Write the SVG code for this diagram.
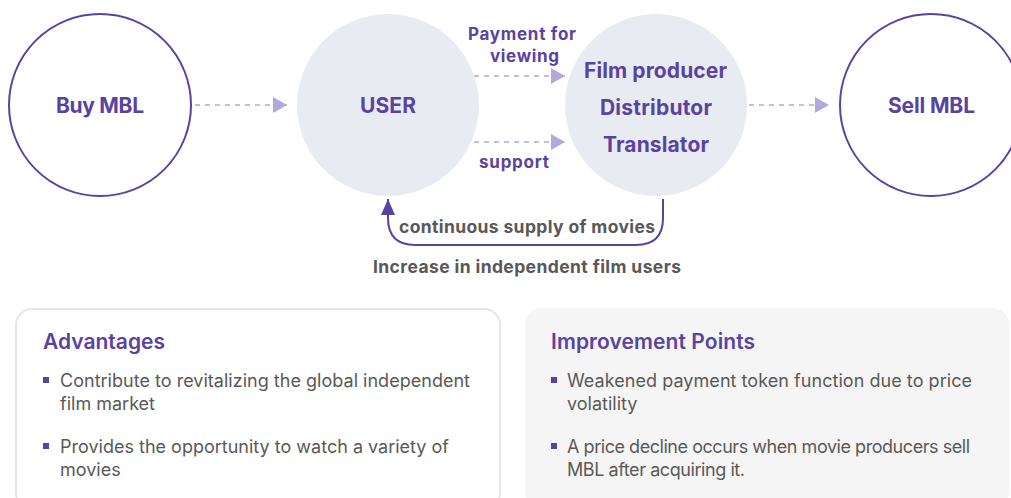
<svg xmlns="http://www.w3.org/2000/svg" width="1011" height="498" viewBox="0 0 1011 498">
<style>
.ring{fill:#fff;stroke:#5a43a0;stroke-width:2}
.disc{fill:#e9ebf3}
.t{font-family:Inter,"Liberation Sans",sans-serif;font-weight:700;fill:#5a43a0;text-anchor:middle}
.g{font-family:Inter,"Liberation Sans",sans-serif;font-weight:700;fill:#585858;text-anchor:middle;font-size:17.5px}
.dash{stroke:#b3a8dc;stroke-width:1.6;stroke-dasharray:5 5;fill:none}
.h{font-family:Inter,"Liberation Sans",sans-serif;font-weight:600;fill:#5a43a0;font-size:21px}
.b{font-family:Inter,"Liberation Sans",sans-serif;font-weight:400;fill:#595959;font-size:18px}
.sq{fill:#5a43a0}
</style>
<defs>
<marker id="ah" markerWidth="14" markerHeight="16" refX="14" refY="8" orient="auto" markerUnits="userSpaceOnUse"><path d="M0,0 L14,8 L0,16 Z" fill="#b3a8dc"/></marker>
<marker id="ah2" markerWidth="16" markerHeight="14" refX="16" refY="7" orient="auto" markerUnits="userSpaceOnUse"><path d="M0,0 L16,7 L0,14 Z" fill="#5a43a0"/></marker>
</defs>
<g id="buy"><circle class="ring" cx="100" cy="105" r="91"/><text class="t" x="100" y="113" font-size="21" textLength="88" lengthAdjust="spacing">Buy MBL</text></g>
<g id="user"><circle class="disc" cx="388" cy="105" r="91"/><text class="t" x="388" y="113" font-size="21" textLength="56" lengthAdjust="spacing">USER</text></g>
<g id="producer"><circle class="disc" cx="656" cy="105" r="91"/>
<text class="t" x="655.5" y="78" font-size="21" textLength="143" lengthAdjust="spacing">Film producer</text>
<text class="t" x="656" y="115" font-size="21" textLength="112" lengthAdjust="spacing">Distributor</text>
<text class="t" x="656" y="152" font-size="21" textLength="106" lengthAdjust="spacing">Translator</text></g>
<g id="sell"><circle class="ring" cx="931" cy="105" r="91"/><text class="t" x="931.5" y="113" font-size="21" textLength="87" lengthAdjust="spacing">Sell MBL</text></g>
<g id="connectors">
<line class="dash" x1="195" y1="105" x2="287" y2="105" marker-end="url(#ah)"/>
<line class="dash" x1="474" y1="76" x2="565" y2="76" marker-end="url(#ah)"/>
<line class="dash" x1="474" y1="142" x2="565" y2="142" marker-end="url(#ah)"/>
<line class="dash" x1="749" y1="105" x2="829" y2="105" marker-end="url(#ah)"/>
<path d="M663 199 L663 218 Q663 245 636 245 L415 245 Q388 245 388 218 L388 199" fill="none" stroke="#5a43a0" stroke-width="2" marker-end="url(#ah2)"/>
<text class="t" x="522" y="40" font-size="17" textLength="108" lengthAdjust="spacing">Payment for</text>
<text class="t" x="524.5" y="62" font-size="17" textLength="69" lengthAdjust="spacing">viewing</text>
<text class="t" x="514" y="168" font-size="17" textLength="70" lengthAdjust="spacing">support</text>
<text class="g" x="527" y="233" textLength="256" lengthAdjust="spacing">continuous supply of movies</text>
<text class="g" x="527" y="273" textLength="308" lengthAdjust="spacing">Increase in independent film users</text>
</g>
<g id="advantages">
<rect x="16" y="309" width="484" height="200" rx="16" fill="#fff" stroke="#e6e6e6" stroke-width="2"/>
<text class="h" x="43" y="349" textLength="122" lengthAdjust="spacing">Advantages</text>
<rect class="sq" x="43" y="377" width="6" height="6"/>
<text class="b" x="60" y="387" textLength="410" lengthAdjust="spacing">Contribute to revitalizing the global independent</text>
<text class="b" x="60" y="410">film market</text>
<rect class="sq" x="43" y="443" width="6" height="6"/>
<text class="b" x="60" y="453" textLength="389" lengthAdjust="spacing">Provides the opportunity to watch a variety of</text>
<text class="b" x="60" y="476">movies</text>
</g>
<g id="improvement">
<rect x="525" y="308" width="484" height="200" rx="16" fill="#f5f5f5"/>
<text class="h" x="551" y="349" textLength="204" lengthAdjust="spacing">Improvement Points</text>
<rect class="sq" x="551" y="377" width="6" height="6"/>
<text class="b" x="567" y="387" textLength="405" lengthAdjust="spacing">Weakened payment token function due to price</text>
<text class="b" x="567" y="410">volatility</text>
<rect class="sq" x="551" y="443" width="6" height="6"/>
<text class="b" x="567" y="453" textLength="403" lengthAdjust="spacing">A price decline occurs when movie producers sell</text>
<text class="b" x="567" y="476" textLength="178" lengthAdjust="spacing">MBL after acquiring it.</text>
</g>
</svg>
